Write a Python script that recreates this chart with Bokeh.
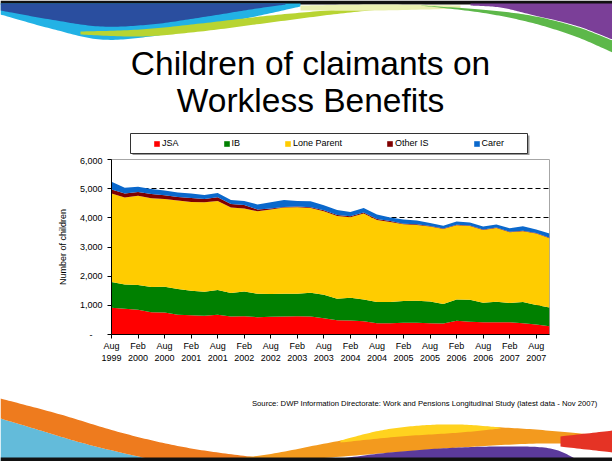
import numpy as np
from bokeh.plotting import figure
from bokeh.models import (ColumnDataSource, Range1d, FixedTicker, NumeralTickFormatter,
                          Legend, LegendItem)
from bokeh.embed import file_html
from bokeh.resources import INLINE
from bokeh.core.properties import value

# ---------------- data ----------------
quarters = ["Aug 1999", "Nov 1999", "Feb 2000", "May 2000", "Aug 2000", "Nov 2000",
            "Feb 2001", "May 2001", "Aug 2001", "Nov 2001", "Feb 2002", "May 2002",
            "Aug 2002", "Nov 2002", "Feb 2003", "May 2003", "Aug 2003", "Nov 2003",
            "Feb 2004", "May 2004", "Aug 2004", "Nov 2004", "Feb 2005", "May 2005",
            "Aug 2005", "Nov 2005", "Feb 2006", "May 2006", "Aug 2006", "Nov 2006",
            "Feb 2007", "May 2007", "Aug 2007", "Nov 2007"]
jsa = [920, 883, 849, 766, 756, 677, 663, 643, 677, 619, 629, 595, 608, 619, 624, 619, 560,
       491, 481, 457, 388, 388, 401, 401, 388, 378, 470, 436, 424, 424, 424, 390, 344, 286]
ib = [877, 835, 846, 860, 882, 881, 837, 823, 846, 801, 849, 802, 778, 778, 773, 813, 803,
      735, 779, 746, 723, 723, 745, 756, 746, 665, 733, 756, 664, 699, 653, 721, 664, 642]
lone_parent = [3038, 2979, 3058, 3048, 3012, 3036, 3047, 3070, 3058, 2933, 2842, 2830, 2899,
               2956, 2967, 2909, 2864, 2840, 2760, 2943, 2817, 2749, 2634, 2599, 2566, 2576,
               2543, 2531, 2497, 2531, 2428, 2429, 2452, 2371]
other_is = [137, 138, 137, 147, 127, 124, 137, 114, 127, 125, 123, 58, 35, 22, 23, 23, 34,
            34, 35, 34, 34, 30, 20, 20, 18, 18, 18, 18, 18, 18, 18, 18, 18, 18]
carer = [262, 195, 178, 168, 162, 150, 150, 135, 140, 135, 135, 175, 216, 240, 194, 206, 172,
         172, 149, 161, 150, 120, 142, 131, 108, 95, 108, 95, 100, 100, 119, 154, 119, 142]
series_names = ["JSA", "IB", "Lone Parent", "Other IS", "Carer"]
series_colors = ["#FF0000", "#008000", "#FFCC00", "#800000", "#0A68CC"]
y_ticks = [0, 1000, 2000, 3000, 4000, 5000, 6000]
title_lines = ["Children of claimants on", "Workless Benefits"]
source_note = "Source: DWP Information Directorate: Work and Pensions Longitudinal Study (latest data - Nov 2007)"

FONT = "Liberation Sans"
W = 612
H_TOP, H_CHART, H_BOT = 155, 220, 86

# ---------------- chart ----------------
src = ColumnDataSource(dict(x=list(range(len(quarters))), jsa=jsa, ib=ib, lone=lone_parent,
                            other=other_is, carer=carer))
keys = ["jsa", "ib", "lone", "other", "carer"]

p = figure(width=W, height=H_CHART, x_range=Range1d(0, len(quarters) - 1),
           y_range=Range1d(0, 6000), output_backend="svg", toolbar_location=None,
           min_border_left=111, min_border_right=63, min_border_top=4, min_border_bottom=41)
rs = p.varea_stack(stackers=keys, x="x", color=series_colors, source=src)

p.outline_line_color = "#A6A6A6"
p.xgrid.visible = False
p.ygrid.grid_line_color = "black"
p.ygrid.grid_line_dash = "5 3"
p.ygrid.grid_line_width = 1

tick_idx = [i for i, q in enumerate(quarters) if q.startswith(("Aug", "Feb"))]
p.xaxis.ticker = FixedTicker(ticks=tick_idx)
p.xaxis.major_label_overrides = {i: quarters[i].replace(" ", "\n") for i in tick_idx}
p.xaxis.minor_tick_line_color = None
p.xaxis.major_tick_in = 0
p.xaxis.major_tick_out = 4
p.xaxis.major_label_standoff = 2

p.yaxis.ticker = FixedTicker(ticks=y_ticks)
p.yaxis.formatter = NumeralTickFormatter(format="0,0")
p.yaxis.major_label_overrides = {0: "-" + "\u00a0" * 4}
p.yaxis.minor_tick_line_color = None
p.yaxis.major_tick_in = 0
p.yaxis.major_tick_out = 4
p.yaxis.major_label_standoff = 5
p.yaxis.axis_label = "Number of children"
p.yaxis.axis_label_standoff = 9

for ax in (p.xaxis, p.yaxis):
    ax.axis_line_color = "black"
    ax.major_tick_line_color = "black"
    ax.major_label_text_font = FONT
    ax.major_label_text_font_size = "9px"
    ax.major_label_text_color = "black"
    ax.axis_label_text_font = FONT
    ax.axis_label_text_font_size = "9px"
    ax.axis_label_text_font_style = "normal"
    ax.axis_label_text_color = "black"


# ---------------- decoration helpers ----------------
def curve(pts, n=20):
    pts = np.asarray(pts, float)
    P = np.vstack([pts[0], pts, pts[-1]])
    out = []
    for i in range(1, len(P) - 2):
        p0, p1, p2, p3 = P[i - 1], P[i], P[i + 1], P[i + 2]
        t = np.linspace(0, 1, n, endpoint=False)[:, None]
        seg = 0.5 * ((2 * p1) + (-p0 + p2) * t + (2 * p0 - 5 * p1 + 4 * p2 - p3) * t ** 2
                     + (-p0 + 3 * p1 - 3 * p2 + p3) * t ** 3)
        out.append(seg)
    out.append(P[-2][None, :])
    return np.vstack(out)


def band(fig, upper, lower, color, dy=0, alpha=1.0):
    u = curve(upper)
    l = curve(lower)[::-1]
    poly = np.vstack([u, l])
    fig.patch(poly[:, 0], poly[:, 1] - dy, color=color, alpha=alpha, line_width=0)


def canvas(h):
    f = figure(width=W, height=h, x_range=Range1d(0, W), y_range=Range1d(h, 0),
               output_backend="svg", toolbar_location=None, min_border=0,
               x_axis_location=None, y_axis_location=None)
    f.grid.visible = False
    f.outline_line_color = None
    return f


# ---------------- top (title + legend) ----------------
top = canvas(H_TOP)
band(top, [(0, 0), (612, 0)], [(0, 4), (612, 4)], "#111111")
band(top, [(0, 3), (300, 3)], [(0, 14), (50, 28), (100, 39), (150, 36), (200, 27), (250, 17), (300, 6)], "#22B2E5")
band(top, [(0, 3), (285, 3)], [(0, 10), (50, 19), (100, 26), (150, 24), (200, 17), (250, 9), (285, 4)], "#2A4E9F")
band(top, [(80, 31), (140, 29), (200, 23), (270, 15), (340, 9), (400, 6)],
     [(80, 34), (140, 36), (200, 31), (270, 22), (340, 13), (400, 7)], "#B8D432")
band(top, [(300, 5), (380, 4), (460, 5)], [(300, 10), (380, 10), (460, 8)], "#EAF0B0")
band(top, [(420, 5), (480, 9), (530, 15), (575, 26), (612, 40)],
     [(420, 5), (480, 12), (530, 22), (575, 36), (612, 52)], "#5DB84A")
band(top, [(470, 3), (612, 3)], [(470, 5), (500, 7), (530, 14), (575, 25), (612, 39)], "#7B3F98")
top.text(x=[310, 310], y=[63, 100], text=title_lines, text_font=value(FONT),
         text_font_size="33.5px", text_align="center", text_baseline="alphabetic", text_color="black")

# legend frame (with a soft shadow) drawn behind the legend entries
top.quad(left=[132], right=[529], top=[135], bottom=[155], fill_color="#9A9A9A", line_color=None)
top.quad(left=[130], right=[527], top=[133], bottom=[153], fill_color="white",
         line_color="#333333", line_width=1)

# legend keys: empty (NaN) renderers styled like the chart's stacked areas
keyrs = [top.varea(x=[np.nan], y1=[np.nan], y2=[np.nan], color=c) for c in series_colors]
legend = Legend(items=[LegendItem(label=n, renderers=[r]) for n, r in zip(series_names, keyrs)],
                orientation="horizontal", location=(148, 2), spacing=44, padding=5, margin=0,
                glyph_width=7, glyph_height=7, label_standoff=2, label_height=9, label_width=0,
                label_text_font=FONT, label_text_font_size="9px", label_text_color="black",
                border_line_alpha=0, background_fill_alpha=0)
top.add_layout(legend)

# ---------------- bottom (source) ----------------
bot = canvas(H_BOT)
oy = H_TOP + H_CHART
band(bot, [(0, 418), (40, 430), (80, 442), (120, 452), (160, 461)], [(0, 461), (160, 461)], "#63BBDA", oy)
band(bot, [(0, 398), (60, 414), (120, 432), (180, 446), (240, 455), (300, 461)],
     [(0, 418), (40, 430), (80, 442), (120, 452), (160, 461)], "#EE7B1E", oy)
band(bot, [(190, 461), (260, 455), (330, 442), (400, 430), (460, 426), (520, 428), (580, 433), (612, 436)],
     [(230, 461), (300, 459), (380, 453), (460, 447), (540, 443), (612, 444)], "#F39A1E", oy)
band(bot, [(340, 440), (380, 430), (420, 425), (460, 424), (500, 427)],
     [(340, 442), (400, 436), (460, 432), (500, 428)], "#FFD21F", oy)
band(bot, [(320, 461), (380, 453), (440, 448), (500, 446), (550, 448), (580, 461)],
     [(320, 461), (580, 461)], "#5B3A9B", oy)
band(bot, [(560, 436), (612, 430)], [(560, 446), (612, 452)], "#E53325", oy)
band(bot, [(0, 457), (612, 457)], [(0, 461), (612, 461)], "#111111", oy)
bot.text(x=[597], y=[28], text=[source_note], text_font=value(FONT), text_font_size="7.7px",
         text_align="right", text_baseline="middle", text_color="black")

open("out.html", "w").write(file_html([top, p, bot], INLINE))
